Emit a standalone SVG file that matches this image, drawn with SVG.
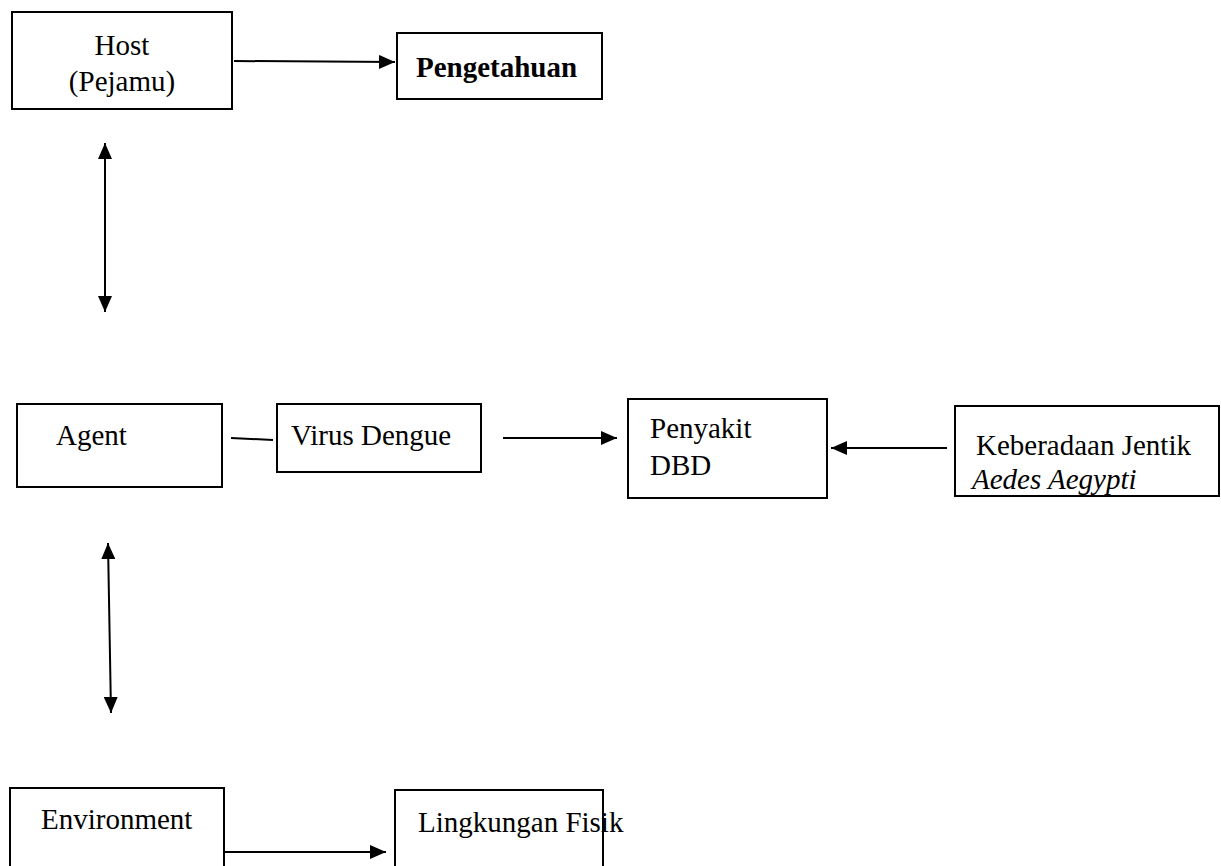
<svg xmlns="http://www.w3.org/2000/svg" width="1221" height="866" viewBox="0 0 1221 866">
<style>
.box{fill:#fff;stroke:#000;stroke-width:2}
.t{font-family:"Liberation Serif","Times New Roman",serif;font-size:29px;fill:#000}
.b{font-weight:bold}
.i{font-style:italic}
.c{stroke:#000;stroke-width:2;fill:none}
</style>
<defs>
<marker id="ahb" viewBox="0 0 16 14" refX="16" refY="7" markerWidth="16" markerHeight="14" markerUnits="userSpaceOnUse" orient="auto-start-reverse">
<path d="M0,0 L16,7 L0,14 Z" fill="#000"/>
</marker>
</defs>
<rect width="1221" height="866" fill="#fff"/>
<g id="host"><rect class="box" x="12" y="12" width="220" height="97"/><text class="t" x="122" y="55" text-anchor="middle">Host</text><text class="t" x="122" y="91" text-anchor="middle">(Pejamu)</text></g>
<g id="pengetahuan"><rect class="box" x="397" y="33" width="205" height="66"/><text class="t b" x="416" y="77">Pengetahuan</text></g>
<g id="agent"><rect class="box" x="17" y="404" width="205" height="83"/><text class="t" x="56" y="445">Agent</text></g>
<g id="virus"><rect class="box" x="277" y="404" width="204" height="68"/><text class="t" x="291" y="445">Virus Dengue</text></g>
<g id="dbd"><rect class="box" x="628" y="399" width="199" height="99"/><text class="t" x="650" y="438">Penyakit</text><text class="t" x="650" y="475">DBD</text></g>
<g id="jentik"><rect class="box" x="955" y="406" width="264" height="90"/><text class="t" x="976" y="455">Keberadaan Jentik</text><text class="t i" x="972" y="489">Aedes Aegypti</text></g>
<g id="environment"><rect class="box" x="10" y="788" width="214" height="90"/><text class="t" x="41" y="829">Environment</text></g>
<g id="fisik"><rect class="box" x="395" y="790" width="208" height="90"/><text class="t" x="418" y="832">Lingkungan Fisik</text></g>
<g id="connectors">
<line class="c" x1="234" y1="61" x2="395" y2="62" marker-end="url(#ahb)"/>
<line class="c" x1="105" y1="143" x2="105" y2="312" marker-start="url(#ahb)" marker-end="url(#ahb)"/>
<line class="c" x1="231" y1="438" x2="273" y2="440"/>
<line class="c" x1="503" y1="438" x2="617" y2="438" marker-end="url(#ahb)"/>
<line class="c" x1="947" y1="448" x2="831" y2="448" marker-end="url(#ahb)"/>
<line class="c" x1="108" y1="543" x2="111" y2="713" marker-start="url(#ahb)" marker-end="url(#ahb)"/>
<line class="c" x1="224" y1="852" x2="386" y2="852" marker-end="url(#ahb)"/>
</g>
</svg>
